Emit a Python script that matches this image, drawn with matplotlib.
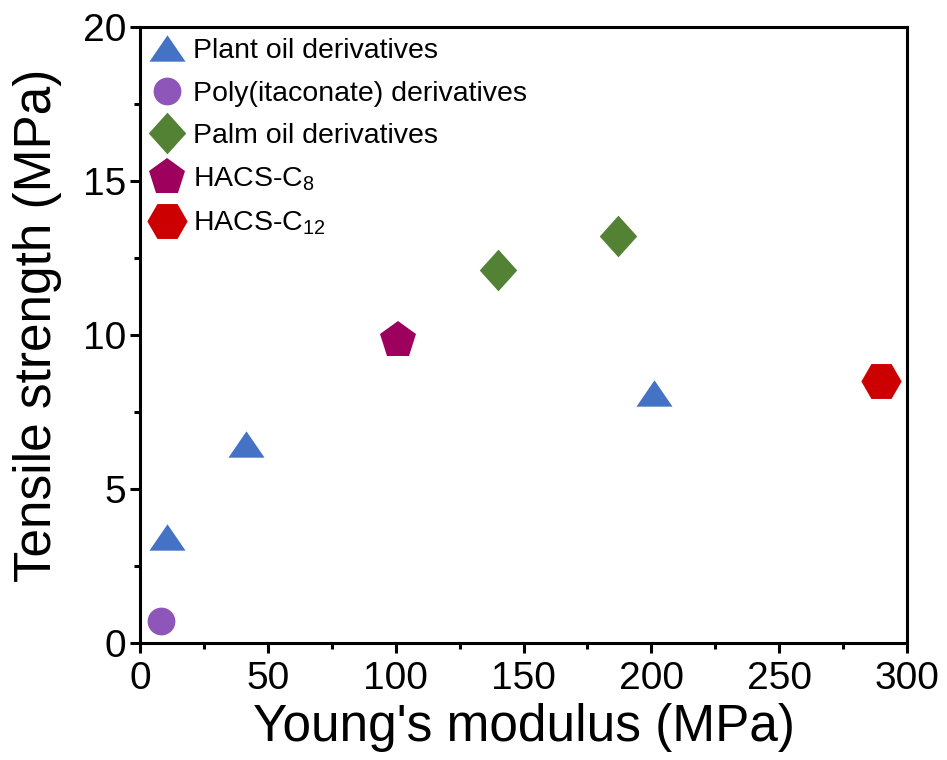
import matplotlib
matplotlib.use("Agg")
import matplotlib.pyplot as plt
from matplotlib.lines import Line2D

plt.rcParams['font.family'] = ['Liberation Sans', 'DejaVu Sans']
plt.rcParams['mathtext.fontset'] = 'custom'
plt.rcParams['mathtext.rm'] = 'Liberation Sans'
plt.rcParams['mathtext.it'] = 'Liberation Sans'
plt.rcParams['mathtext.bf'] = 'Liberation Sans'

# Young's modulus (MPa) and tensile strength (MPa) per material family
plant_x = [10.5, 41.5, 201]
plant_y = [3.45, 6.45, 8.1]
itaconate_x = [8.2]
itaconate_y = [0.7]
palm_x = [140, 187]
palm_y = [12.1, 13.2]
c8_x = [101]
c8_y = [9.85]
c12_x = [290]
c12_y = [8.5]

labels = ['Plant oil derivatives', 'Poly(itaconate) derivatives',
          'Palm oil derivatives', 'HACS-C$_8$', 'HACS-C$_{12}$']

tri = [(-1, -0.73), (1, -0.73), (0, 0.73), (-1, -0.73)]
diamond = [(0, 1), (0.9, 0), (0, -1), (-0.9, 0), (0, 1)]

series = [
    (plant_x, plant_y, tri, '#4472C4', 26),
    (itaconate_x, itaconate_y, 'o', '#8E56B8', 20),
    (palm_x, palm_y, diamond, '#548235', 30),
    (c8_x, c8_y, 'p', '#9E005D', 28),
    (c12_x, c12_y, 'H', '#CC0000', 29),
]

fig = plt.figure(figsize=(9.47, 7.6), dpi=100)
ax = fig.add_axes([0.1478, 0.154, 0.81, 0.8105])

handles = []
for (xs, ys, m, c, ms), lab in zip(series, labels):
    ax.plot(xs, ys, linestyle='none', marker=m, color=c, markersize=ms,
            markeredgewidth=0, clip_on=False)
    handles.append(Line2D([], [], linestyle='none', marker=m, color=c,
                          markersize=ms, markeredgewidth=0, label=lab))

ax.set_xlim(0, 300)
ax.set_ylim(0, 20)
ax.set_xticks([0, 50, 100, 150, 200, 250, 300])
ax.set_yticks([0, 5, 10, 15, 20])
ax.set_xticks([25, 75, 125, 175, 225, 275], minor=True)
ax.set_yticks([2.5, 7.5, 12.5, 17.5], minor=True)

for s in ax.spines.values():
    s.set_linewidth(2.2)
ax.tick_params(which='major', direction='out', length=7, width=2.2,
               labelsize=28)
ax.tick_params(axis='x', which='major', pad=6)
ax.tick_params(axis='y', which='major', pad=3)
ax.tick_params(which='minor', direction='out', length=4, width=2.2)
ax.tick_params(top=False, right=False, which='both')

ax.set_xlabel("Young's modulus (MPa)", fontsize=37, labelpad=4)
ax.set_ylabel("Tensile strength (MPa)", fontsize=37)
ax.yaxis.set_label_coords(-0.102, 0.515)

ax.legend(handles=handles, loc='upper left', frameon=False, fontsize=20.5,
          handlelength=1.1, handletextpad=0.35, labelspacing=0.58,
          borderaxespad=0.1, borderpad=0.3)

fig.savefig('out.png', dpi=100)
